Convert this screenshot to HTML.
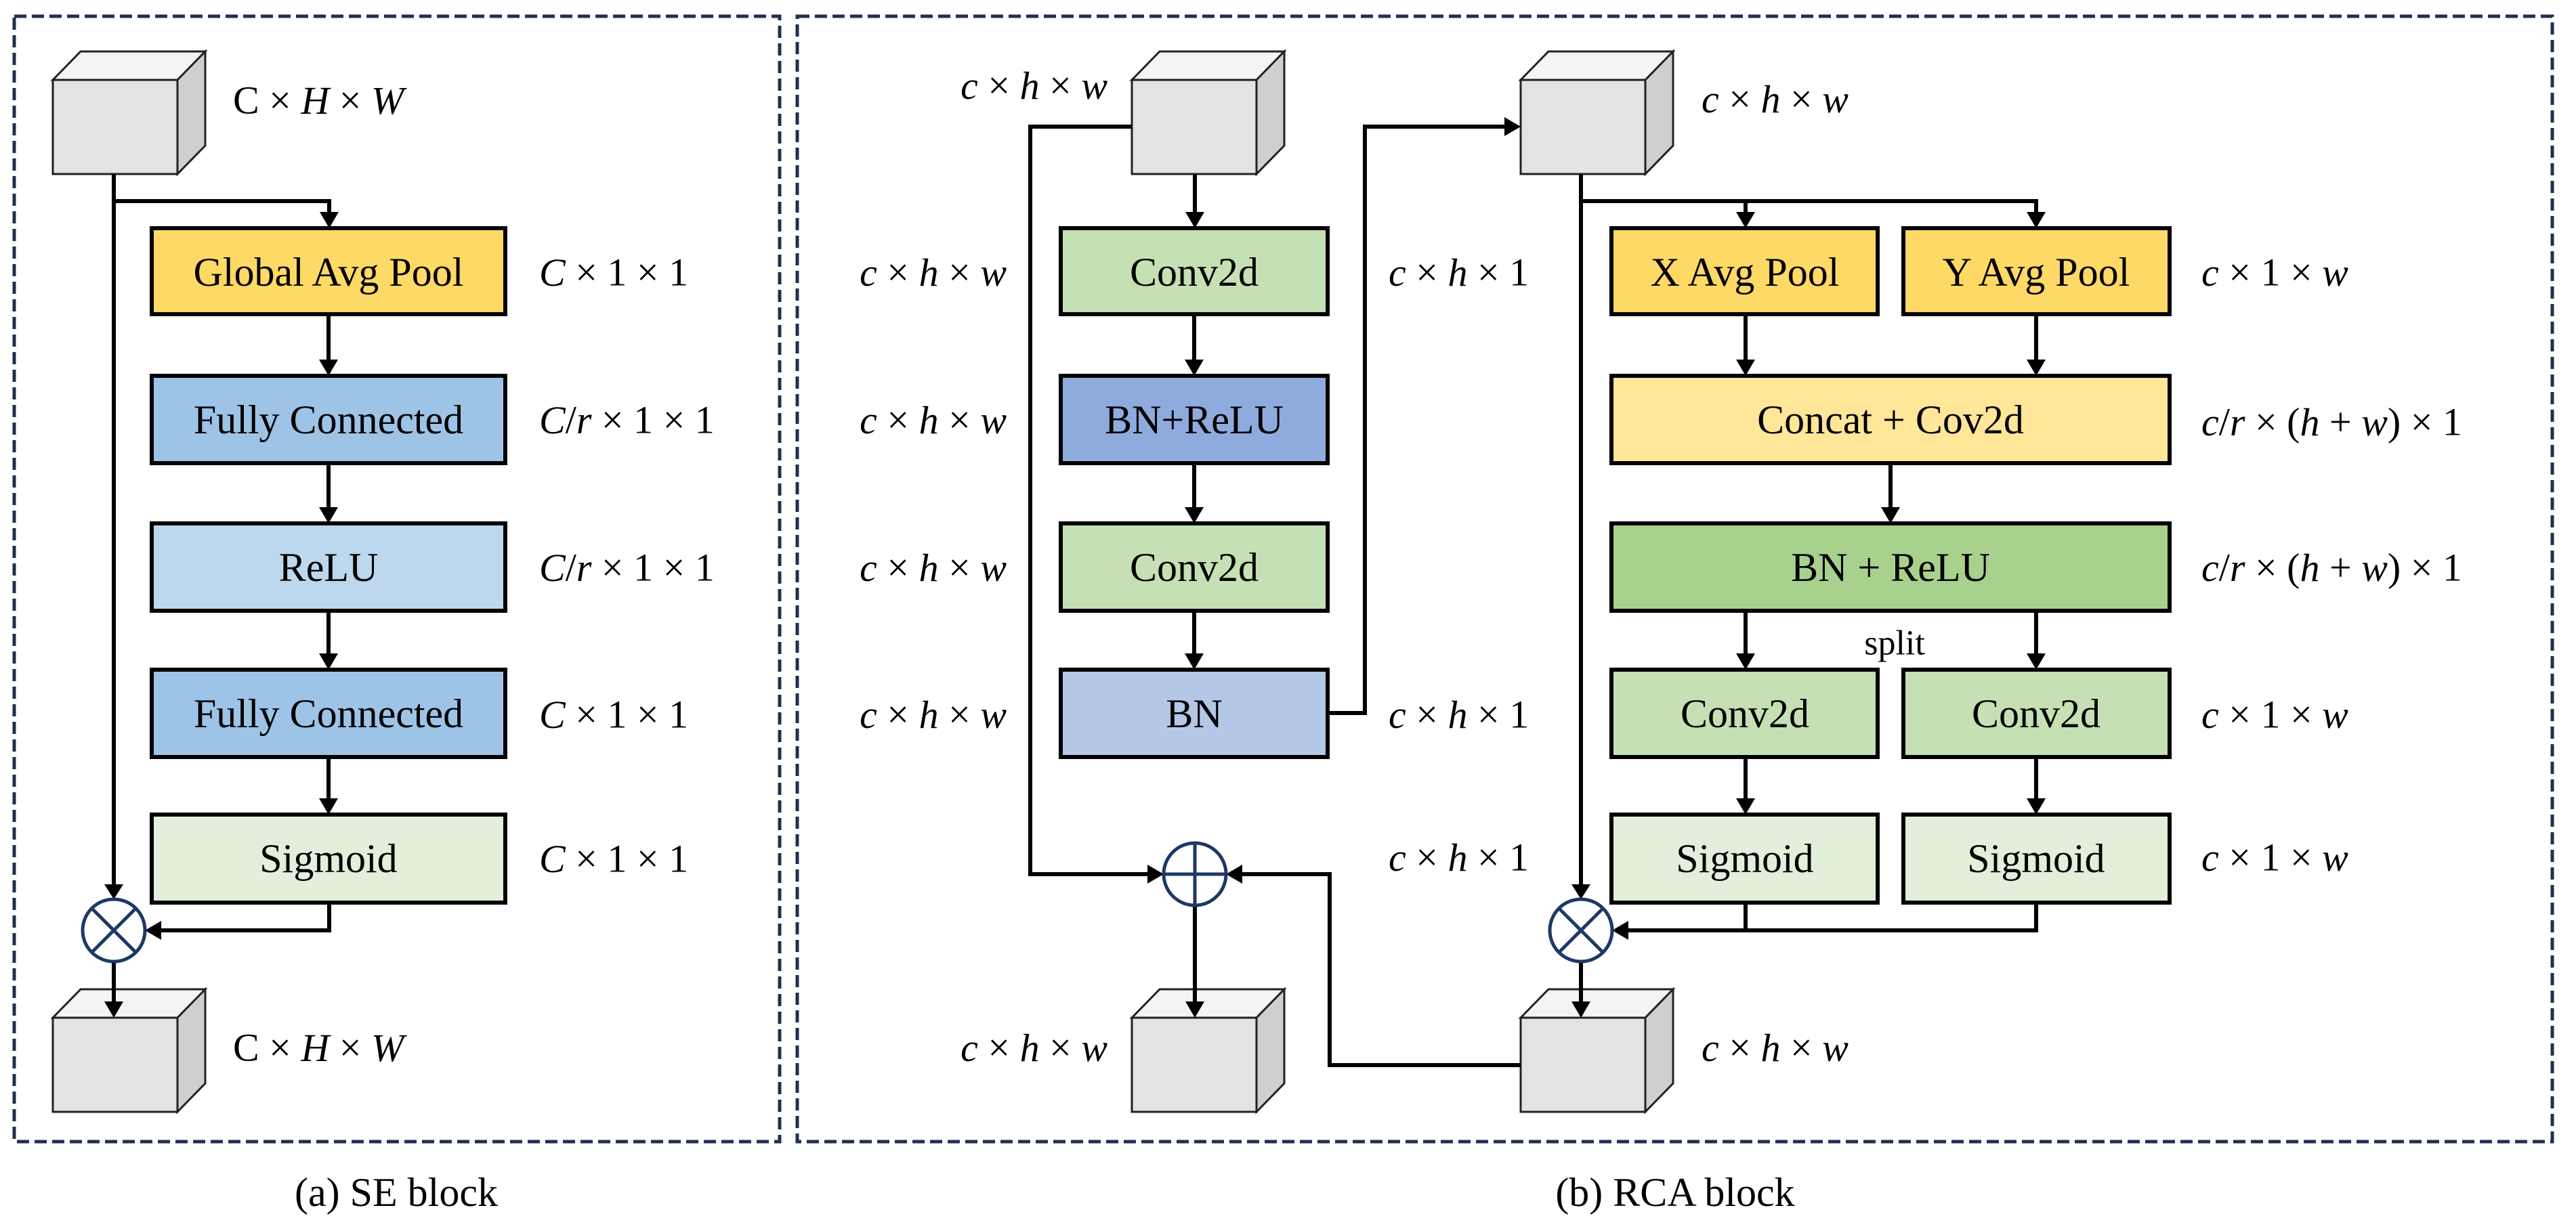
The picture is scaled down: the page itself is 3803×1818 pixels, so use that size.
<!DOCTYPE html>
<html><head><meta charset="utf-8"><style>
html,body{margin:0;padding:0;background:#fff;}
svg{display:block;}
svg text{font-family:"Liberation Serif","Times New Roman",Times,"Noto Serif CJK SC","DejaVu Serif",serif;}
.bt{font-size:60px;text-anchor:middle;dominant-baseline:central;}
.lb{font-size:58px;dominant-baseline:central;}
.i{font-style:italic;}
</style></head><body>
<svg width="3803" height="1818" viewBox="0 0 3803 1818" xmlns="http://www.w3.org/2000/svg">
<defs>
<g id="cube">
<polygon points="0,0 41,-42 225,-42 184,0" fill="#f4f4f4" stroke="#222" stroke-width="3"/>
<polygon points="184,0 225,-42 225,97 184,139" fill="#cfcfcf" stroke="#222" stroke-width="3"/>
<rect x="0" y="0" width="184" height="139" fill="#e3e3e3" stroke="#222" stroke-width="3"/>
</g>
</defs>
<rect x="21" y="24" width="1130" height="1662" fill="none" stroke="#1f3050" stroke-width="5" stroke-dasharray="18,8"/>
<rect x="1177" y="24" width="2591" height="1662" fill="none" stroke="#1f3050" stroke-width="5" stroke-dasharray="18,8"/>

<use href="#cube" x="78" y="118"/>
<use href="#cube" x="78" y="1503"/>
<use href="#cube" x="1671" y="118"/>
<use href="#cube" x="2245" y="118"/>
<use href="#cube" x="1671" y="1503"/>
<use href="#cube" x="2245" y="1503"/>

<g stroke="#000" stroke-width="6" fill="none">
<path d="M168 257 V1310"/>
<path d="M168 297 H486 V315"/>
<path d="M485 464 V535"/><path d="M485 684 V753"/><path d="M485 902 V969"/><path d="M485 1118 V1183"/>
<path d="M486 1330 V1374 H234"/>
<path d="M168 1420 V1483"/>
<path d="M1671 187 H1521 V1291 H1698"/>
<path d="M1764 257 V317"/>
<path d="M1763 464 V535"/><path d="M1763 684 V753"/><path d="M1763 902 V969"/>
<path d="M1960 1053 H2015 V187 H2223"/>
<path d="M2334 257 V1310"/>
<path d="M2334 297 H3006 V317"/><path d="M2577 297 V317"/>
<path d="M2577 464 V535"/><path d="M3006 464 V535"/>
<path d="M2791 684 V753"/>
<path d="M2577 902 V969"/><path d="M3006 902 V969"/>
<path d="M2577 1118 V1183"/><path d="M3006 1118 V1183"/>
<path d="M2577 1333 V1374"/><path d="M3006 1333 V1374 H2400"/>
<path d="M2334 1420 V1483"/>
<path d="M2245 1573 H1963 V1291 H1830"/>
<path d="M1764 1337 V1483"/>
</g>
<g fill="#000">
<polygon points="154,1306 182,1306 168,1328"/>
<polygon points="472,313 500,313 486,337"/>
<polygon points="471,531 499,531 485,555"/><polygon points="471,749 499,749 485,773"/><polygon points="471,965 499,965 485,989"/><polygon points="471,1179 499,1179 485,1203"/>
<polygon points="238,1360 238,1388 214,1374"/>
<polygon points="154,1479 182,1479 168,1503"/>
<polygon points="1694,1277 1694,1305 1718,1291"/>
<polygon points="1750,313 1778,313 1764,337"/>
<polygon points="1749,531 1777,531 1763,555"/><polygon points="1749,749 1777,749 1763,773"/><polygon points="1749,965 1777,965 1763,989"/>
<polygon points="2221,173 2221,201 2245,187"/>
<polygon points="2320,1306 2348,1306 2334,1328"/>
<polygon points="2992,313 3020,313 3006,337"/><polygon points="2563,313 2591,313 2577,337"/>
<polygon points="2563,531 2591,531 2577,555"/><polygon points="2992,531 3020,531 3006,555"/>
<polygon points="2777,749 2805,749 2791,773"/>
<polygon points="2563,965 2591,965 2577,989"/><polygon points="2992,965 3020,965 3006,989"/>
<polygon points="2563,1179 2591,1179 2577,1203"/><polygon points="2992,1179 3020,1179 3006,1203"/>
<polygon points="2404,1360 2404,1388 2380,1374"/>
<polygon points="2320,1479 2348,1479 2334,1503"/>
<polygon points="1834,1277 1834,1305 1810,1291"/>
<polygon points="1750,1479 1778,1479 1764,1503"/>
</g>

<g stroke="#1f3864" stroke-width="5" fill="#fff">
<circle cx="168" cy="1374" r="46"/>
<circle cx="2334" cy="1374" r="46"/>
<circle cx="1764" cy="1291" r="46"/>
</g>
<g stroke="#1f3864" stroke-width="5">
<path d="M136 1342 L200 1406 M200 1342 L136 1406"/>
<path d="M2302 1342 L2366 1406 M2366 1342 L2302 1406"/>
<path d="M1718 1291 H1810 M1764 1245 V1337"/>
</g>

<g stroke="#000" stroke-width="6">
<rect x="224" y="337" width="522" height="127" fill="#ffd966"/>
<rect x="224" y="555" width="522" height="129" fill="#9dc3e6"/>
<rect x="224" y="773" width="522" height="129" fill="#bdd7ee"/>
<rect x="224" y="989" width="522" height="129" fill="#9dc3e6"/>
<rect x="224" y="1203" width="522" height="130" fill="#e2efda"/>
<rect x="1566" y="337" width="394" height="127" fill="#c5e0b4"/>
<rect x="1566" y="555" width="394" height="129" fill="#8faadc"/>
<rect x="1566" y="773" width="394" height="129" fill="#c5e0b4"/>
<rect x="1566" y="989" width="394" height="129" fill="#b4c7e7"/>
<rect x="2379" y="337" width="393" height="127" fill="#ffd966"/>
<rect x="2810" y="337" width="393" height="127" fill="#ffd966"/>
<rect x="2379" y="555" width="824" height="129" fill="#ffe699"/>
<rect x="2379" y="773" width="824" height="129" fill="#a9d18e"/>
<rect x="2379" y="989" width="393" height="129" fill="#c5e0b4"/>
<rect x="2810" y="989" width="393" height="129" fill="#c5e0b4"/>
<rect x="2379" y="1203" width="393" height="130" fill="#e2efda"/>
<rect x="2810" y="1203" width="393" height="130" fill="#e2efda"/>
</g>

<g>
<text class="bt" x="485" y="402">Global Avg Pool</text>
<text class="bt" x="485" y="620">Fully Connected</text>
<text class="bt" x="485" y="838">ReLU</text>
<text class="bt" x="485" y="1054">Fully Connected</text>
<text class="bt" x="485" y="1268">Sigmoid</text>
<text class="bt" x="1763" y="402">Conv2d</text>
<text class="bt" x="1763" y="620">BN+ReLU</text>
<text class="bt" x="1763" y="838">Conv2d</text>
<text class="bt" x="1763" y="1054">BN</text>
<text class="bt" x="2576" y="402">X Avg Pool</text>
<text class="bt" x="3006" y="402">Y Avg Pool</text>
<text class="bt" x="2791" y="620">Concat + Cov2d</text>
<text class="bt" x="2791" y="838">BN + ReLU</text>
<text class="bt" x="2576" y="1054">Conv2d</text>
<text class="bt" x="3006" y="1054">Conv2d</text>
<text class="bt" x="2576" y="1268">Sigmoid</text>
<text class="bt" x="3006" y="1268">Sigmoid</text>
<text class="bt" x="2797" y="950" style="font-size:52px">split</text>

<text class="lb" x="344" y="148">C × <tspan class="i">H</tspan> × <tspan class="i">W</tspan></text>
<text class="lb" x="344" y="1547">C × <tspan class="i">H</tspan> × <tspan class="i">W</tspan></text>
<text class="lb" x="796" y="402"><tspan class="i">C</tspan> × 1 × 1</text>
<text class="lb" x="796" y="620"><tspan class="i">C</tspan>/<tspan class="i">r</tspan> × 1 × 1</text>
<text class="lb" x="796" y="838"><tspan class="i">C</tspan>/<tspan class="i">r</tspan> × 1 × 1</text>
<text class="lb" x="796" y="1055"><tspan class="i">C</tspan> × 1 × 1</text>
<text class="lb" x="796" y="1268"><tspan class="i">C</tspan> × 1 × 1</text>
<text class="lb" x="1635" y="126" text-anchor="end"><tspan class="i">c</tspan> × <tspan class="i">h</tspan> × <tspan class="i">w</tspan></text>
<text class="lb" x="1635" y="1547" text-anchor="end"><tspan class="i">c</tspan> × <tspan class="i">h</tspan> × <tspan class="i">w</tspan></text>
<text class="lb" x="1486" y="402" text-anchor="end"><tspan class="i">c</tspan> × <tspan class="i">h</tspan> × <tspan class="i">w</tspan></text>
<text class="lb" x="1486" y="620" text-anchor="end"><tspan class="i">c</tspan> × <tspan class="i">h</tspan> × <tspan class="i">w</tspan></text>
<text class="lb" x="1486" y="838" text-anchor="end"><tspan class="i">c</tspan> × <tspan class="i">h</tspan> × <tspan class="i">w</tspan></text>
<text class="lb" x="1486" y="1055" text-anchor="end"><tspan class="i">c</tspan> × <tspan class="i">h</tspan> × <tspan class="i">w</tspan></text>
<text class="lb" x="2050" y="402"><tspan class="i">c</tspan> × <tspan class="i">h</tspan> × 1</text>
<text class="lb" x="2050" y="1055"><tspan class="i">c</tspan> × <tspan class="i">h</tspan> × 1</text>
<text class="lb" x="2050" y="1266"><tspan class="i">c</tspan> × <tspan class="i">h</tspan> × 1</text>
<text class="lb" x="2512" y="146"><tspan class="i">c</tspan> × <tspan class="i">h</tspan> × <tspan class="i">w</tspan></text>
<text class="lb" x="2512" y="1547"><tspan class="i">c</tspan> × <tspan class="i">h</tspan> × <tspan class="i">w</tspan></text>
<text class="lb" x="3250" y="402"><tspan class="i">c</tspan> × 1 × <tspan class="i">w</tspan></text>
<text class="lb" x="3250" y="623"><tspan class="i">c</tspan>/<tspan class="i">r</tspan> × (<tspan class="i">h</tspan> + <tspan class="i">w</tspan>) × 1</text>
<text class="lb" x="3250" y="838"><tspan class="i">c</tspan>/<tspan class="i">r</tspan> × (<tspan class="i">h</tspan> + <tspan class="i">w</tspan>) × 1</text>
<text class="lb" x="3250" y="1055"><tspan class="i">c</tspan> × 1 × <tspan class="i">w</tspan></text>
<text class="lb" x="3250" y="1266"><tspan class="i">c</tspan> × 1 × <tspan class="i">w</tspan></text>

<text class="bt" x="585" y="1761">(a) SE block</text>
<text class="bt" x="2473" y="1761">(b) RCA block</text>
</g>
</svg>
</body></html>
